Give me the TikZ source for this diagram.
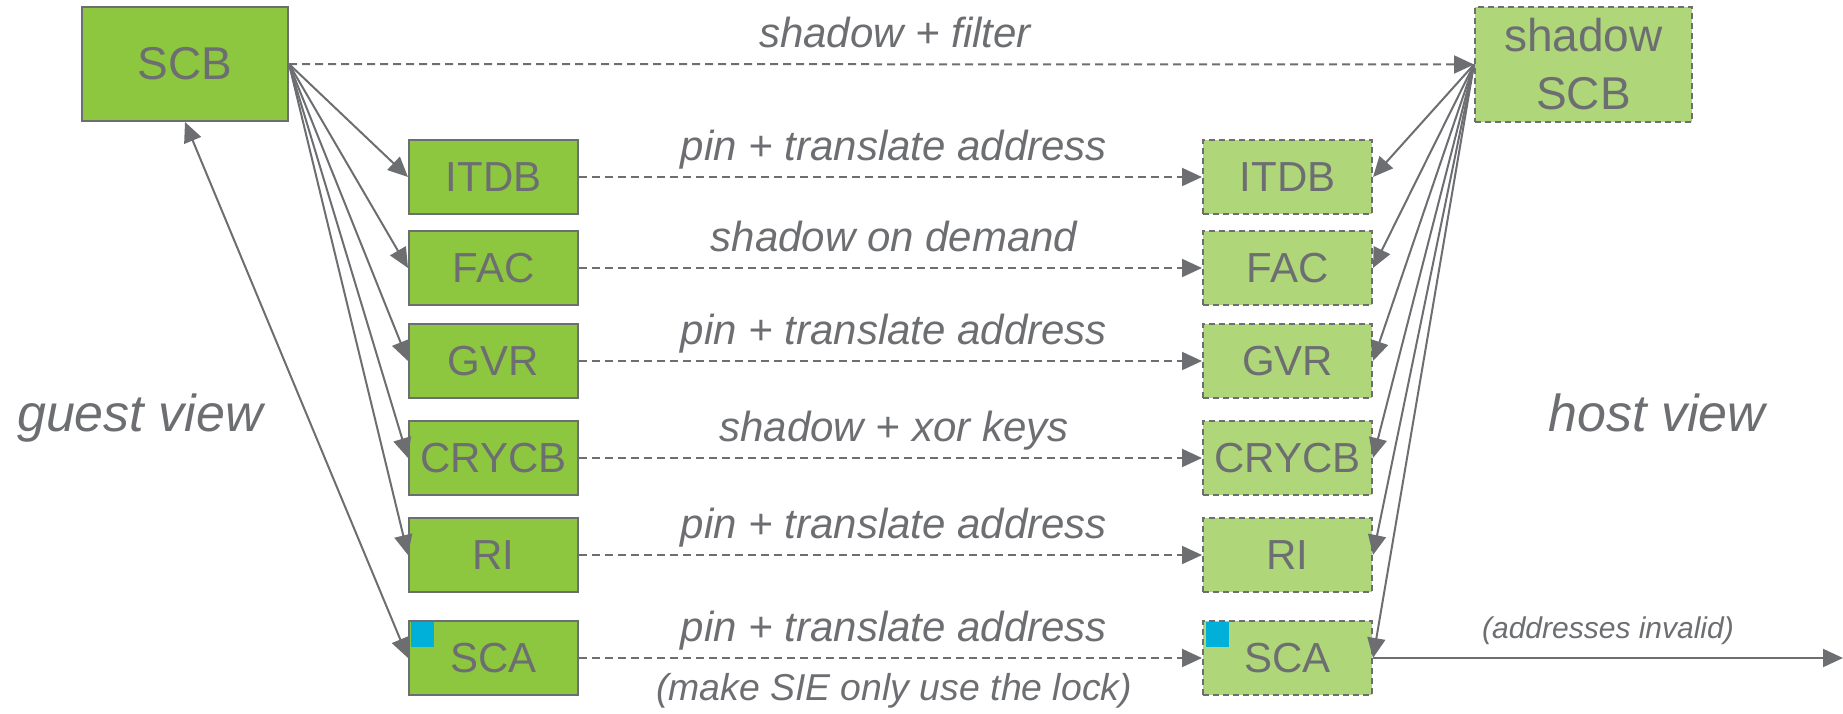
\documentclass[tikz,border=0pt]{standalone}
\usepackage{fontspec}
\setmainfont{Liberation Sans}
\usetikzlibrary{arrows.meta}
\definecolor{gfill}{RGB}{141,198,63}
\definecolor{hfill}{RGB}{175,215,122}
\definecolor{lgray}{RGB}{109,110,113}
\definecolor{sqblue}{RGB}{0,176,216}
\begin{document}
\begin{tikzpicture}[x=0.5pt,y=-0.5pt,
  guest/.style={draw=lgray, line width=1pt, fill=gfill, text=lgray, minimum width=84.5pt, minimum height=37pt, inner sep=0pt, font=\fontsize{21}{25}\selectfont},
  host/.style={guest, fill=hfill, dash pattern=on 3pt off 2pt},
  bigbox/.style={font=\fontsize{23}{29}\selectfont, align=center},
  lbl/.style={text=lgray, font=\fontsize{21}{25}\selectfont\itshape, anchor=base, inner sep=0pt},
  viewlbl/.style={lbl, font=\fontsize{26}{30}\selectfont\itshape},
  smalllbl/.style={lbl, font=\fontsize{15}{18}\selectfont\itshape},
  notelbl/.style={lbl, font=\fontsize{18.7}{22}\selectfont\itshape},
  tip/.tip={Triangle[length=10pt,width=9pt]},
  conn/.style={draw=lgray, line width=1pt, -tip},
  dconn/.style={conn, dash pattern=on 4pt off 2.5pt},
  sq/.style={fill=sqblue, draw=none, minimum width=11.5pt, minimum height=12.5pt, inner sep=0pt, anchor=north west},
]
\useasboundingbox (0,0) rectangle (1843,713);

\node[guest, bigbox, minimum width=103pt, minimum height=57pt] (scb) at (185,64) {SCB};
\node[host, bigbox, minimum width=108.5pt, minimum height=57.5pt] (sscb) at (1583.5,64.5) {shadow\\SCB};

\foreach \n/\t/\y in {itdb/ITDB/177, fac/FAC/268, gvr/GVR/361, crycb/CRYCB/458, ri/RI/555, sca/SCA/658} {
  \node[guest] (g\n) at (493.5,\y) {\t};
  \node[host] (h\n) at (1287.5,\y) {\t};
}
\node[sq] (gsq) at ([shift={(3,2)}]gsca.north west) {};
\node[sq] (hsq) at ([shift={(4,2)}]hsca.north west) {};

% labels
\node[lbl] (l0) at (895,47) {shadow + filter};
\node[lbl] (l1) at (894,160) {pin + translate address};
\node[lbl] (l2) at (894,251) {shadow on demand};
\node[lbl] (l3) at (894,344) {pin + translate address};
\node[lbl] (l4) at (894,441) {shadow + xor keys};
\node[lbl] (l5) at (894,538) {pin + translate address};
\node[lbl] (l6) at (894,641) {pin + translate address};
\node[notelbl] (l7) at (894,700) {(make SIE only use the lock)};
\node[viewlbl] (gv) at (140,431) {guest view};
\node[viewlbl] (hv) at (1657,431) {host view};
\node[smalllbl] (ai) at (1608,638) {(addresses invalid)};

% dashed connectors
\draw[dconn] (scb.east) -- (sscb.west);
\foreach \n in {itdb,fac,gvr,crycb,ri,sca}
  \draw[dconn] (g\n.east) -- (h\n.west);

% guest fan-out
\foreach \n in {itdb,fac,gvr,crycb,ri}
  \draw[conn] (scb.east) -- (g\n.west);
\draw[conn, tip-tip] (scb.south) -- (gsca.west);

% host fan-out
\foreach \n in {itdb,fac,gvr,crycb,ri,sca}
  \draw[conn] (sscb.west) -- (h\n.east);

\coordinate (out) at (1843,658);
\draw[conn] (hsca.east) -- (out);
\end{tikzpicture}
\end{document}
